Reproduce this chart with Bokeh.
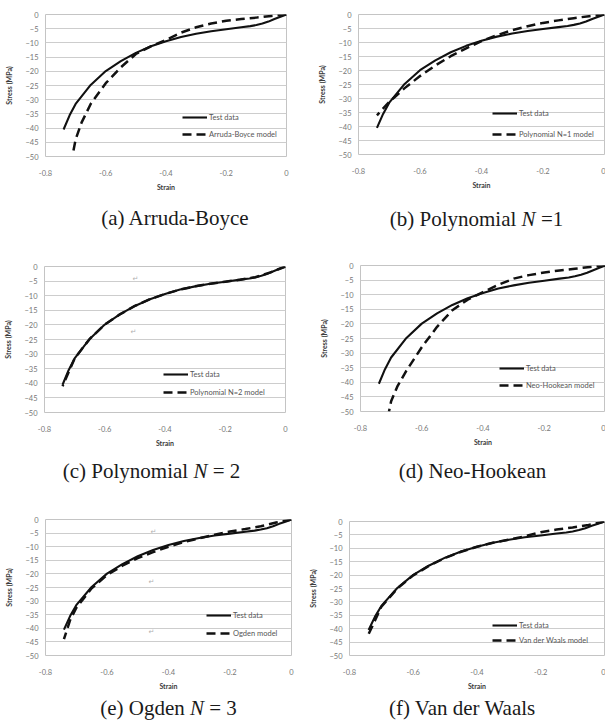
from bokeh.plotting import figure
from bokeh.layouts import row, column
from bokeh.models import (Legend, LegendItem, Label, FixedTicker,
                          CustomJSTickFormatter, Range1d)
from bokeh.embed import file_html
from bokeh.resources import INLINE

# ---------------- data ----------------
x_ticks = [-0.8, -0.6, -0.4, -0.2, 0.0]
y_ticks = [-50, -45, -40, -35, -30, -25, -20, -15, -10, -5, 0]

test_strain = [0.0, -0.02, -0.04, -0.06, -0.08, -0.10, -0.12, -0.15, -0.20, -0.25,
               -0.30, -0.35, -0.40, -0.45, -0.50, -0.55, -0.60, -0.65, -0.70, -0.72, -0.74]
test_stress = [0.0, -0.8, -1.6, -2.5, -3.2, -3.7, -4.1, -4.5, -5.2, -5.9,
               -6.8, -7.9, -9.4, -11.2, -13.5, -16.4, -19.9, -24.8, -31.5, -35.5, -40.5]

arruda_strain = [0.0, -0.05, -0.10, -0.15, -0.20, -0.25, -0.30, -0.35, -0.40, -0.45,
                 -0.50, -0.55, -0.60, -0.65, -0.68, -0.70, -0.71]
arruda_stress = [0.0, -0.5, -1.1, -1.6, -2.2, -3.2, -4.5, -6.4, -9.0, -11.2,
                 -13.9, -18.6, -24.2, -31.5, -38.0, -44.0, -49.5]

poly1_strain = [0.0, -0.05, -0.10, -0.15, -0.20, -0.25, -0.30, -0.35, -0.40, -0.45,
                -0.50, -0.55, -0.60, -0.65, -0.70, -0.74]
poly1_stress = [0.0, -0.6, -1.3, -2.1, -3.0, -4.2, -5.6, -7.4, -9.5, -12.1,
                -14.9, -18.2, -22.0, -26.3, -31.2, -36.0]

poly2_strain = [0.0, -0.05, -0.10, -0.15, -0.20, -0.25, -0.30, -0.35, -0.40, -0.45,
                -0.50, -0.55, -0.60, -0.65, -0.70, -0.74]
poly2_stress = [0.0, -2.0, -3.7, -4.5, -5.2, -5.9, -6.8, -7.9, -9.4, -11.2,
                -13.5, -16.4, -19.9, -24.8, -31.5, -41.0]

neo_strain = [0.0, -0.05, -0.10, -0.15, -0.20, -0.25, -0.30, -0.35, -0.40, -0.45,
              -0.50, -0.55, -0.60, -0.65, -0.68, -0.70, -0.707]
neo_stress = [0.0, -0.5, -1.1, -1.7, -2.4, -3.3, -4.5, -6.6, -9.1, -11.7,
              -15.3, -21.0, -28.0, -36.0, -41.5, -46.5, -50.0]

ogden_strain = [0.0, -0.05, -0.10, -0.15, -0.20, -0.25, -0.30, -0.35, -0.40, -0.45,
                -0.50, -0.55, -0.60, -0.65, -0.70, -0.72, -0.74]
ogden_stress = [0.0, -1.1, -2.5, -3.5, -4.4, -5.6, -6.9, -8.3, -10.0, -12.0,
                -14.2, -17.0, -20.4, -25.3, -32.5, -37.0, -44.0]

vdw_strain = [0.0, -0.05, -0.10, -0.15, -0.20, -0.25, -0.30, -0.35, -0.40, -0.45,
              -0.50, -0.55, -0.60, -0.65, -0.70, -0.74]
vdw_stress = [0.0, -1.3, -2.2, -3.0, -4.0, -5.5, -6.8, -7.9, -9.4, -11.3,
              -13.6, -16.5, -20.1, -25.0, -31.8, -42.0]

model_names = ["Arruda-Boyce model", "Polynomial N=1 model", "Polynomial N=2 model",
               "Neo-Hookean model", "Ogden model", "Van der Waals model"]

NB = "\u00a0"  # non-breaking space, so that SVG keeps edge spaces
captions = [
    [("(a) Arruda-Boyce", False)],
    [("(b) Polynomial" + NB, False), ("N", True), (NB + "=1", False)],
    [("(c) Polynomial" + NB, False), ("N", True), (NB + "=" + NB + "2", False)],
    [("(d) Neo-Hookean", False)],
    [("(e) Ogden" + NB, False), ("N", True), (NB + "=" + NB + "3", False)],
    [("(f) Van der Waals", False)],
]

# Times / Liberation Serif advance widths (1/1000 em)
TW = {' ': 250, NB: 250, '(': 333, ')': 333, 'a': 444, 'b': 500, 'c': 444, 'd': 500,
      'e': 444, 'f': 333, 'g': 500, 'k': 500, 'l': 278, 'm': 778, 'n': 500, 'o': 500,
      'r': 333, 's': 389, 'u': 500, 'y': 500, 'i': 278, 'A': 722, 'B': 667, 'H': 722,
      'N': 722, 'O': 722, 'P': 556, 'V': 722, 'W': 944, '-': 333, '=': 564, '1': 500,
      '2': 500, '3': 500}
CAP_SIZE = 21.0


def text_width(s, italic):
    if italic:
        return sum(667 if ch == 'N' else TW.get(ch, 500) for ch in s) * CAP_SIZE / 1000
    return sum(TW.get(ch, 500) for ch in s) * CAP_SIZE / 1000


TICK_COL = "#777777"
LAB_COL = "#3a3a3a"
GRID_COL = "#cdcdcd"
BB = 36  # space under the plot frame for tick labels and axis title


def make_chart(w, frame_bottom, bl, br, bt, mx, my, name, leg_xy, leg_sp,
               marks, fig_origin):
    h = frame_bottom + BB
    p = figure(width=w, height=h, output_backend="svg", toolbar_location=None,
               x_range=Range1d(-0.8, 0.0), y_range=Range1d(-50, 0),
               min_border_left=bl, min_border_right=br,
               min_border_top=bt, min_border_bottom=BB,
               background_fill_color="white", border_fill_color="white",
               outline_line_color="#c4c4c4", outline_line_width=1)
    p.xaxis.ticker = FixedTicker(ticks=x_ticks)
    p.xaxis.formatter = CustomJSTickFormatter(
        code="return Math.abs(tick) < 1e-9 ? '0' : tick.toFixed(1);")
    p.yaxis.ticker = FixedTicker(ticks=y_ticks)
    for ax in (p.xaxis[0], p.yaxis[0]):
        ax.axis_line_color = None
        ax.major_tick_line_color = None
        ax.minor_tick_line_color = None
        ax.major_tick_out = 0
        ax.major_tick_in = 0
        ax.major_label_text_font = "Lato"
        ax.major_label_text_font_size = "7.5px"
        ax.major_label_text_color = TICK_COL
        ax.axis_label_text_font = "Lato"
        ax.axis_label_text_font_size = "7px"
        ax.axis_label_text_font_style = "bold"
        ax.axis_label_text_color = LAB_COL
    p.xaxis.axis_label = "Strain"
    p.yaxis.axis_label = "Stress (MPa)"
    p.xaxis.major_label_standoff = 13
    p.xaxis.axis_label_standoff = 4
    p.yaxis.major_label_standoff = 7
    p.yaxis.axis_label_standoff = 9
    p.xgrid.visible = False
    p.ygrid.grid_line_color = GRID_COL
    p.ygrid.grid_line_width = 1

    r_test = p.line(test_strain, test_stress, line_color="#111111", line_width=2.1)
    r_model = p.line(mx, my, line_color="#111111", line_width=2.5, line_dash="9 5")

    legend = Legend(items=[LegendItem(label="Test data", renderers=[r_test]),
                           LegendItem(label=name, renderers=[r_model])],
                    location=leg_xy, orientation="vertical",
                    glyph_width=25, glyph_height=10, label_height=10,
                    label_standoff=2, spacing=leg_sp, padding=0, margin=0,
                    border_line_alpha=0, background_fill_alpha=0,
                    label_text_font="Lato", label_text_font_size="7.5px",
                    label_text_color="#555555")
    p.add_layout(legend)

    ox, oy = fig_origin
    frame_left = ox + bl
    frame_bot_page = oy + frame_bottom
    for (px, py) in marks:
        p.add_layout(Label(x=px - frame_left, y=frame_bot_page - py,
                           x_units="screen", y_units="screen", text="\u21b5",
                           text_font="DejaVu Sans", text_font_size="7px",
                           text_color="#b0b0b0", text_align="center",
                           text_baseline="middle"))
    return p


def make_caption(w, h, bl, br, parts, cx, cy):
    # the caption plot's frame is aligned with the chart frame above it
    # (column alignment), so its x range spans the same pixels [bl, w - br]
    c = figure(width=w, height=h, output_backend="svg", toolbar_location=None,
               x_range=Range1d(bl, w - br), y_range=Range1d(0, h),
               min_border=0, min_border_left=bl, min_border_right=br,
               min_border_top=0, min_border_bottom=0,
               x_axis_type=None, y_axis_type=None,
               background_fill_color="white", border_fill_color="white",
               outline_line_color=None)
    c.xgrid.visible = False
    c.ygrid.visible = False
    total = sum(text_width(t, it) for t, it in parts)
    x = cx - total / 2.0
    for t, it in parts:
        c.add_layout(Label(x=x, y=h - cy, text=t, text_font="Liberation Serif",
                           text_font_size="%gpx" % CAP_SIZE,
                           text_font_style="italic" if it else "normal",
                           text_color="#1a1a1a", text_align="left",
                           text_baseline="middle"))
        x += text_width(t, it)
    return c


def panel(w, h, frame_bottom, bl, br, bt, mx, my, name, leg_xy, leg_sp,
          cap_parts, cap_cx, cap_cy_page, marks, origin):
    chart = make_chart(w, frame_bottom, bl, br, bt, mx, my, name, leg_xy, leg_sp,
                       marks, origin)
    ch = frame_bottom + BB
    cap = make_caption(w, h - ch, bl, br, cap_parts, cap_cx,
                       cap_cy_page - origin[1] - ch)
    return column(chart, cap, spacing=0)


# rows: 0-240, 240-485, 485-726
pa = panel(300, 240, 157, 45, 14, 14, arruda_strain, arruda_stress, model_names[0],
           (137, 17), 7, captions[0], 175, 217, [], (0, 0))
pb = panel(305, 240, 155, 58, 1, 14, poly1_strain, poly1_stress, model_names[1],
           (134, 15), 11, captions[1], 176, 218, [], (300, 0))
pc = panel(300, 245, 173, 44, 15, 26, poly2_strain, poly2_stress, model_names[2],
           (119, 15), 8, captions[2], 151, 470,
           [(135, 279), (133, 332)], (0, 240))
pd = panel(305, 245, 172, 60, 0, 25, neo_strain, neo_stress, model_names[3],
           (139, 21), 7, captions[3], 172, 470, [], (300, 240))
pe = panel(300, 241, 171, 45, 9, 34, ogden_strain, ogden_stress, model_names[4],
           (161, 17), 8, captions[4], 168, 707,
           [(153, 532), (151, 582), (151, 632)], (0, 485))
pf = panel(305, 241, 171, 49, 1, 36, vdw_strain, vdw_stress, model_names[5],
           (143, 10), 5, captions[5], 164, 707, [], (300, 485))

layout = column(row(pa, pb, spacing=0), row(pc, pd, spacing=0),
                row(pe, pf, spacing=0), spacing=0)
open("out.html", "w").write(file_html(layout, INLINE))
